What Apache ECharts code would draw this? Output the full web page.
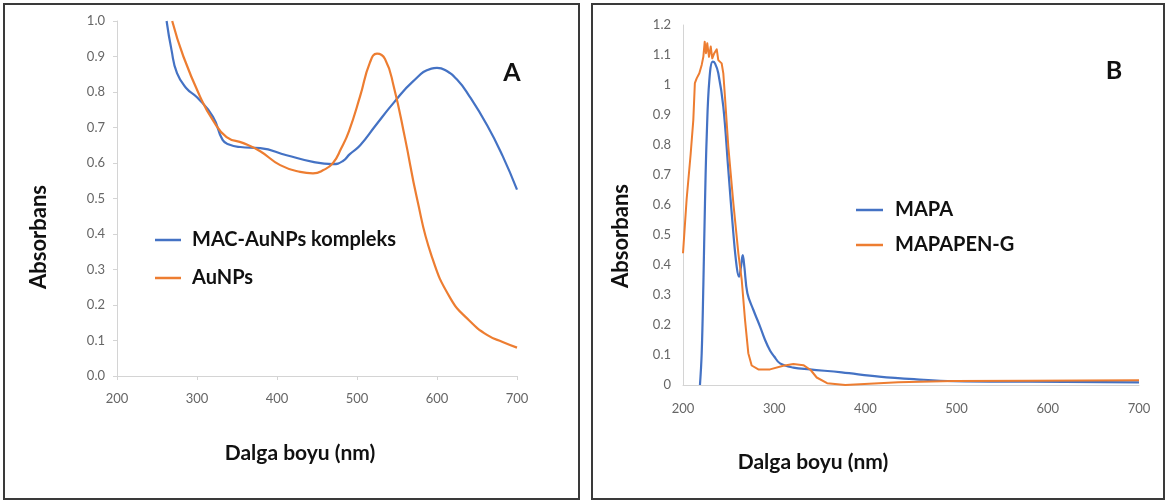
<!DOCTYPE html>
<html>
<head>
<meta charset="utf-8">
<script src="https://cdn.jsdelivr.net/npm/echarts@6/dist/echarts.min.js"></script>
<style>
html,body{margin:0;padding:0;background:#fff;}
#c{width:1167px;height:502px;}
</style>
</head>
<body>
<div id="c"></div>
<script>
// ---- Panel A data ----
const aNamesA = ['MAC-AuNPs kompleks', 'AuNPs'];
const aMacX = [262, 268, 275, 287, 300, 320, 332, 340, 354, 379, 412, 445, 470, 482, 491, 504, 523, 546, 570, 593, 600, 610, 625, 640, 663, 682, 700];
const aMacY = [1.0, 0.92, 0.853, 0.81, 0.785, 0.73, 0.665, 0.652, 0.645, 0.642, 0.622, 0.603, 0.597, 0.605, 0.625, 0.65, 0.705, 0.77, 0.83, 0.866, 0.868, 0.862, 0.835, 0.79, 0.705, 0.62, 0.525];
const aAuX = [269, 283, 304, 320, 337, 358, 379, 404, 429, 445, 458, 470, 480, 490, 504, 516, 525, 535, 546, 560, 575, 593, 617, 640, 663, 682, 700];
const aAuY = [1.0, 0.9, 0.786, 0.72, 0.673, 0.656, 0.633, 0.594, 0.575, 0.571, 0.58, 0.6, 0.64, 0.69, 0.789, 0.882, 0.908, 0.893, 0.815, 0.67, 0.5, 0.34, 0.218, 0.157, 0.115, 0.096, 0.08];

// ---- Panel B data ----
const bNames = ['MAPA', 'MAPAPEN-G'];
const bMapaX = [218.6, 220.5, 222.3, 224.1, 226, 228.9, 232.6, 235.1, 238.7, 244.2, 249.7, 255.2, 258.9, 261.4, 263.6, 265.5, 267.3, 270.6, 277.2, 284.6, 290, 295.4, 300, 306.4, 321, 339, 374, 415, 456, 497, 579, 700];
const bMapaY = [0, 0.106, 0.33, 0.606, 0.828, 1.017, 1.078, 1.072, 1.039, 0.928, 0.717, 0.506, 0.394, 0.361, 0.394, 0.433, 0.394, 0.306, 0.25, 0.194, 0.15, 0.115, 0.095, 0.072, 0.058, 0.052, 0.042, 0.028, 0.019, 0.013, 0.011, 0.009];
const bPenX = [200, 204, 208.4, 211.3, 213, 215, 217.9, 220.5, 222.3, 223.8, 225.2, 226.6, 228.5, 230.4, 232.1, 234.3, 237, 238.7, 240.6, 242.4, 244.2, 246, 249.7, 255.2, 260.7, 264.4, 268, 271.6, 275.3, 282.6, 295.4, 310, 321, 332, 340, 346.6, 358, 378, 399, 436, 497, 579, 700];
const bPenY = [0.439, 0.62, 0.77, 0.883, 1.006, 1.022, 1.039, 1.067, 1.094, 1.144, 1.106, 1.139, 1.094, 1.128, 1.089, 1.106, 1.119, 1.083, 1.078, 1.072, 1.039, 0.961, 0.794, 0.606, 0.439, 0.35, 0.217, 0.106, 0.065, 0.052, 0.052, 0.064, 0.07, 0.066, 0.05, 0.025, 0.006, 0, 0.003, 0.009, 0.013, 0.014, 0.016];

const xTicks = [200, 300, 400, 500, 600, 700];

const BLUE = '#4472C4';
const ORANGE = '#ED7D31';
const FONT = 'Lato, "Open Sans", sans-serif';

const pairs = (xs, ys) => xs.map((x, i) => [x, ys[i]]);

const axisLine = {show: true, lineStyle: {color: '#d4d4d4', width: 1}};
const tickLabel = {color: '#666', fontSize: 13, fontFamily: FONT};

const chart = echarts.init(document.getElementById('c'), null, {renderer: 'canvas'});
chart.setOption({
  animation: false,
  backgroundColor: '#fff',
  grid: [
    {left: 117, top: 21, width: 400, height: 355},
    {left: 683, top: 25, width: 456, height: 360}
  ],
  xAxis: [
    {type: 'value', gridIndex: 0, min: xTicks[0], max: xTicks[xTicks.length - 1], interval: 100,
     axisLine: axisLine, axisTick: {show: true, length: 4, lineStyle: {color: '#d4d4d4'}},
     splitLine: {show: false},
     axisLabel: Object.assign({margin: 16}, tickLabel)},
    {type: 'value', gridIndex: 1, min: xTicks[0], max: xTicks[xTicks.length - 1], interval: 100,
     axisLine: axisLine, axisTick: {show: false},
     splitLine: {show: false},
     axisLabel: Object.assign({margin: 17}, tickLabel)}
  ],
  yAxis: [
    {type: 'value', gridIndex: 0, min: 0, max: 1, interval: 0.1,
     axisLine: axisLine, axisTick: {show: true, length: 4, lineStyle: {color: '#d4d4d4'}},
     splitLine: {show: false},
     axisLabel: Object.assign({margin: 12, formatter: v => v.toFixed(1)}, tickLabel)},
    {type: 'value', gridIndex: 1, min: 0, max: 1.2, interval: 0.1,
     axisLine: axisLine, axisTick: {show: false},
     splitLine: {show: false},
     axisLabel: Object.assign({margin: 12, formatter: v => String(+v.toFixed(1))}, tickLabel)}
  ],
  legend: [
    {data: aNamesA, orient: 'vertical', left: 150, top: 224, itemGap: 16,
     icon: 'rect', itemWidth: 26, itemHeight: 2.5,
     textStyle: {fontSize: 20, fontWeight: 'bold', color: '#111', fontFamily: FONT, lineHeight: 22, padding: [0, 0, 0, 6]}},
    {data: bNames, orient: 'vertical', left: 851, top: 194, itemGap: 13,
     icon: 'rect', itemWidth: 27, itemHeight: 2.5,
     textStyle: {fontSize: 20, fontWeight: 'bold', color: '#111', fontFamily: FONT, lineHeight: 22, padding: [0, 0, 0, 7]}}
  ],
  series: [
    {name: aNamesA[0], type: 'line', xAxisIndex: 0, yAxisIndex: 0, data: pairs(aMacX, aMacY),
     smooth: 0.5, showSymbol: false, lineStyle: {color: BLUE, width: 2.2}, itemStyle: {color: BLUE}},
    {name: aNamesA[1], type: 'line', xAxisIndex: 0, yAxisIndex: 0, data: pairs(aAuX, aAuY),
     smooth: 0.5, showSymbol: false, lineStyle: {color: ORANGE, width: 2.2}, itemStyle: {color: ORANGE}},
    {name: bNames[0], type: 'line', xAxisIndex: 1, yAxisIndex: 1, data: pairs(bMapaX, bMapaY),
     smooth: 0.4, showSymbol: false, lineStyle: {color: BLUE, width: 2.2}, itemStyle: {color: BLUE}},
    {name: bNames[1], type: 'line', xAxisIndex: 1, yAxisIndex: 1, data: pairs(bPenX, bPenY),
     smooth: false, showSymbol: false, lineStyle: {color: ORANGE, width: 2, join: 'round'}, itemStyle: {color: ORANGE}}
  ],
  graphic: [
    {type: 'rect', shape: {x: 4, y: 4, width: 575, height: 495}, style: {fill: 'none', stroke: '#3a3a3a', lineWidth: 2}, silent: true},
    {type: 'rect', shape: {x: 592, y: 4, width: 572, height: 495}, style: {fill: 'none', stroke: '#3a3a3a', lineWidth: 2}, silent: true},
    {type: 'text', x: 512, y: 73, style: {text: 'A', font: 'bold 25px ' + FONT, fill: '#111', align: 'center', verticalAlign: 'middle'}},
    {type: 'text', x: 1114, y: 71, style: {text: 'B', font: 'bold 25px ' + FONT, fill: '#111', align: 'center', verticalAlign: 'middle'}},
    {type: 'text', x: 39, y: 237, rotation: Math.PI / 2, style: {text: 'Absorbans', font: 'bold 22px ' + FONT, fill: '#111', align: 'center', verticalAlign: 'middle'}},
    {type: 'text', x: 621, y: 236, rotation: Math.PI / 2, style: {text: 'Absorbans', font: 'bold 22px ' + FONT, fill: '#111', align: 'center', verticalAlign: 'middle'}},
    {type: 'text', x: 300, y: 453, style: {text: 'Dalga boyu (nm)', font: 'bold 21px ' + FONT, fill: '#111', align: 'center', verticalAlign: 'middle'}},
    {type: 'text', x: 813, y: 462, style: {text: 'Dalga boyu (nm)', font: 'bold 21px ' + FONT, fill: '#111', align: 'center', verticalAlign: 'middle'}}
  ]
});
</script>
</body>
</html>
